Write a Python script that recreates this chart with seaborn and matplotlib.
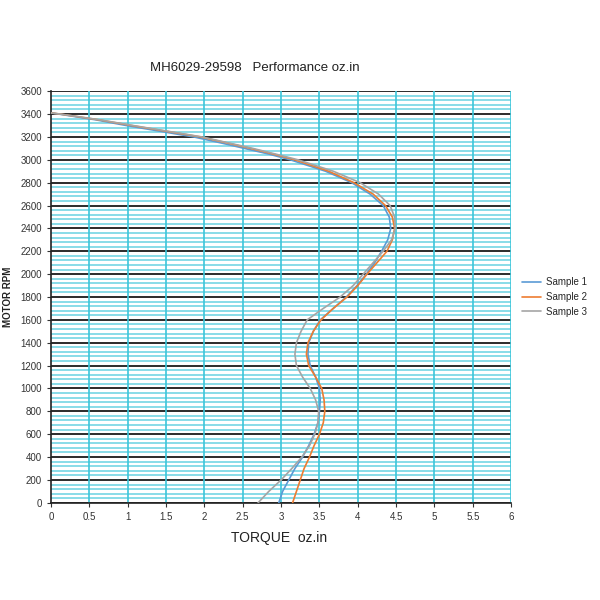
import numpy as np
import pandas as pd
import matplotlib
matplotlib.use('Agg')
import matplotlib.pyplot as plt
import seaborn as sns
from matplotlib.ticker import MultipleLocator, FormatStrFormatter

# rpm levels shared by the three samples
rpm = [0, 100, 200, 300, 400, 500, 600, 700, 800, 900, 1000, 1100, 1200, 1300,
       1400, 1500, 1600, 1700, 1800, 1900, 2000, 2100, 2200, 2300, 2400, 2500,
       2600, 2700, 2800, 2900, 3000, 3050, 3100, 3150, 3200, 3250, 3300, 3350,
       3400, 3410]

sample1 = [2.97, 3.02, 3.10, 3.18, 3.28, 3.36, 3.43, 3.48, 3.50, 3.51, 3.50, 3.45,
           3.38, 3.35, 3.36, 3.42, 3.51, 3.68, 3.85, 3.99, 4.11, 4.22, 4.31, 4.39,
           4.43, 4.41, 4.33, 4.16, 3.92, 3.58, 3.12, 2.84, 2.52, 2.20, 1.86, 1.42,
           0.98, 0.58, 0.10, 0.0]
sample2 = [3.15, 3.20, 3.25, 3.30, 3.37, 3.43, 3.50, 3.55, 3.57, 3.56, 3.53, 3.45,
           3.36, 3.33, 3.35, 3.42, 3.52, 3.68, 3.86, 4.00, 4.12, 4.25, 4.38, 4.45,
           4.48, 4.45, 4.36, 4.20, 3.95, 3.62, 3.18, 2.90, 2.60, 2.28, 1.95, 1.50,
           1.05, 0.62, 0.12, 0.0]
sample3 = [2.70, 2.84, 3.00, 3.14, 3.27, 3.37, 3.44, 3.48, 3.49, 3.45, 3.38, 3.28,
           3.20, 3.18, 3.20, 3.26, 3.34, 3.55, 3.77, 3.94, 4.07, 4.20, 4.33, 4.44,
           4.49, 4.48, 4.42, 4.27, 4.03, 3.68, 3.22, 2.93, 2.63, 2.30, 1.97, 1.52,
           1.07, 0.63, 0.12, 0.0]

names = ['Sample 1', 'Sample 2', 'Sample 3']
colors = ['#5B9BD5', '#ED7D31', '#A5A5A5']

frames = []
for name, torque in zip(names, [sample1, sample2, sample3]):
    frames.append(pd.DataFrame({'torque': torque, 'rpm': rpm, 'sample': name}))
df = pd.concat(frames, ignore_index=True)

sns.set_style('white')
plt.rcParams['font.family'] = ['Liberation Sans', 'DejaVu Sans']

fig = plt.figure(figsize=(6, 6), dpi=100)
ax = fig.add_axes([0.085, 0.162, 0.767, 0.686])

# grid: minor cyan every 40 rpm, black every 200, cyan verticals every 0.5
for v in np.arange(0, 3601, 40):
    if v % 200:
        ax.axhline(v, color='#7fd9e6', lw=1.3, zorder=0)
for v in np.arange(0, 3601, 200):
    ax.axhline(v, color='#2b2b2b', lw=1.4, zorder=1)
for v in np.arange(0.5, 6.01, 0.5):
    ax.axvline(v, color='#3cc6da', lw=1.2, zorder=1)

sns.lineplot(data=df, x='torque', y='rpm', hue='sample', sort=False,
             estimator=None, palette=colors, lw=1.2, ax=ax, zorder=3)

ax.set_xlim(0, 6)
ax.set_ylim(0, 3600)
ax.xaxis.set_major_locator(MultipleLocator(0.5))
ax.xaxis.set_major_formatter(FormatStrFormatter('%g'))
ax.yaxis.set_major_locator(MultipleLocator(200))
ax.tick_params(axis='both', labelsize=7, colors='#333333', length=3,
               direction='out', bottom=True, left=True)
for s in ['top', 'right']:
    ax.spines[s].set_visible(False)
for s in ['left', 'bottom']:
    ax.spines[s].set_color('#222222')
    ax.spines[s].set_linewidth(1.2)

ax.set_xlabel('')
ax.set_ylabel('')
fig.text(0.425, 0.887, 'MH6029-29598   Performance oz.in', ha='center',
         va='center', fontsize=9.5, color='#222222')
fig.text(0.465, 0.103, 'TORQUE  oz.in', ha='center', va='center',
         fontsize=10, color='#222222')
fig.text(0.014, 0.505, 'MOTOR RPM', rotation=90, ha='center', va='center',
         fontsize=7, fontweight='bold', color='#222222')

handles, labels = ax.get_legend_handles_labels()
ax.get_legend().remove()
fig.legend(handles, labels, loc='center left', bbox_to_anchor=(0.858, 0.505),
           frameon=False, fontsize=7, handlelength=2.0, handletextpad=0.5,
           labelspacing=0.5, borderpad=0.2)

fig.savefig('out.png', dpi=100)
